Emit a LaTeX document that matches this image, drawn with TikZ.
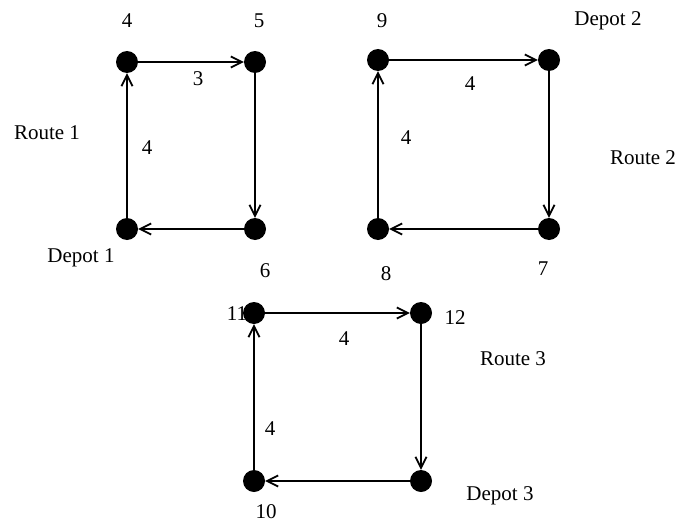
\documentclass[tikz,border=0pt]{standalone}
\usepackage{fontspec}
\setmainfont{Liberation Serif}
\usetikzlibrary{arrows.meta}
\begin{document}
\begin{tikzpicture}[x=1pt,y=-1pt,
  stop/.style={circle,fill=black,inner sep=0pt,minimum size=22pt},
  lbl/.style={font=\fontsize{21}{25}\selectfont,inner sep=0pt},
  leg/.style={line width=2.2pt,-{Straight Barb[length=11pt,width=11pt,line width=1.8pt]}}]
\useasboundingbox (0,0) rectangle (685,527);
% Route 1
\node[stop] (n4) at (127,62) {};
\node[stop] (n5) at (255,62) {};
\node[stop] (n6) at (255,229) {};
\node[stop] (d1) at (127,229) {};
\draw[leg] (n4) -- (n5);
\draw[leg] (n5) -- (n6);
\draw[leg] (n6) -- (d1);
\draw[leg] (d1) -- (n4);
\node[lbl] (t4) at (127,21) {4};
\node[lbl] (t5) at (259,21) {5};
\node[lbl] (t6) at (265,271) {6};
\node[lbl] (td1) at (81,258) {Depot 1};
\node[lbl] (r1) at (47,133) {Route 1};
\node[lbl] (w1) at (198,79) {3};
\node[lbl] (w2) at (147,148) {4};
% Route 2
\node[stop] (n9) at (378,60) {};
\node[stop] (d2) at (549,60) {};
\node[stop] (n7) at (549,229) {};
\node[stop] (n8) at (378,229) {};
\draw[leg] (n9) -- (d2);
\draw[leg] (d2) -- (n7);
\draw[leg] (n7) -- (n8);
\draw[leg] (n8) -- (n9);
\node[lbl] (t9) at (382,21) {9};
\node[lbl] (td2) at (608,21) {Depot 2};
\node[lbl] (t7) at (543,269) {7};
\node[lbl] (t8) at (386,274) {8};
\node[lbl] (r2) at (643,158) {Route 2};
\node[lbl] (w3) at (470,84) {4};
\node[lbl] (w4) at (406,138) {4};
% Route 3
\node[stop] (n11) at (254,313) {};
\node[stop] (n12) at (421,313) {};
\node[stop] (d3) at (421,481) {};
\node[stop] (n10) at (254,481) {};
\draw[leg] (n11) -- (n12);
\draw[leg] (n12) -- (d3);
\draw[leg] (d3) -- (n10);
\draw[leg] (n10) -- (n11);
\node[lbl] (t11) at (237,314) {11};
\node[lbl] (t12) at (455,318) {12};
\node[lbl] (t10) at (266,512) {10};
\node[lbl] (td3) at (500,496) {Depot 3};
\node[lbl] (r3) at (513,359) {Route 3};
\node[lbl] (w5) at (344,339) {4};
\node[lbl] (w6) at (270,429) {4};
\end{tikzpicture}
\end{document}
